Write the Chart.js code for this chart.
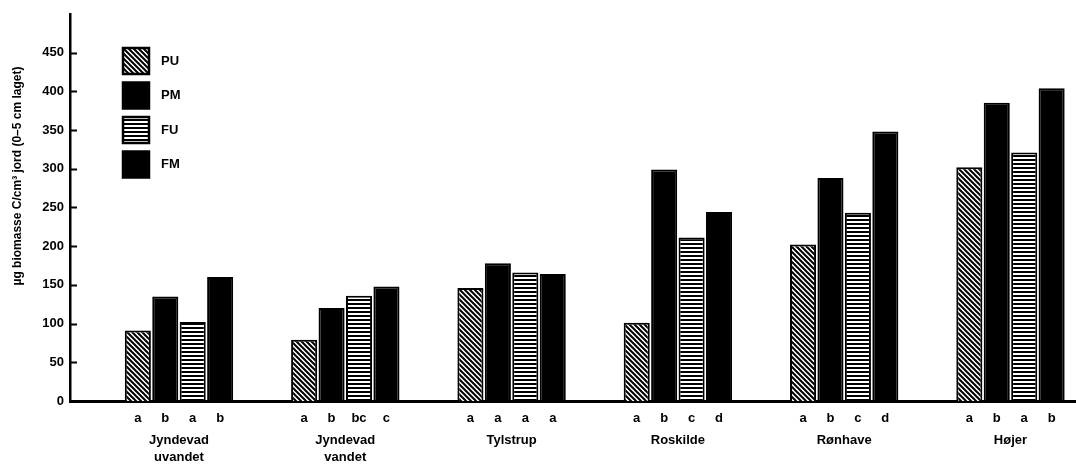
<!DOCTYPE html>
<html><head><meta charset="utf-8">
<script src="https://cdn.jsdelivr.net/npm/chart.js@4/dist/chart.umd.min.js"></script>
<style>html,body{margin:0;padding:0;background:#fff;} #wrap{width:1076px;height:467px;position:relative;}</style>
</head><body><div id="wrap"><canvas id="c" width="1076" height="467"></canvas></div>
<script>
// ---- data ----
const sites = [['Jyndevad','uvandet'], ['Jyndevad','vandet'], 'Tylstrup', 'Roskilde', 'Rønhave', 'Højer'];
const seriesNames = ['PU', 'PM', 'FU', 'FM'];
const puValues = [91, 79, 146, 101, 202, 302];
const pmValues = [135, 120, 178, 299, 288, 385];
const fuValues = [102, 136, 166, 211, 243, 321];
const fmValues = [160, 148, 164, 244, 348, 404];
const puLetters = ['a', 'a', 'a', 'a', 'a', 'a'];
const pmLetters = ['b', 'b', 'a', 'b', 'b', 'b'];
const fuLetters = ['a', 'bc', 'a', 'c', 'c', 'a'];
const fmLetters = ['b', 'c', 'a', 'd', 'd', 'b'];
const yTickValues = [0, 50, 100, 150, 200, 250, 300, 350, 400, 450];
const yTitle = 'µg biomasse C/cm³ jord (0–5 cm laget)';

// ---- styles ----
const FONT = '"Liberation Sans", Arial, Helvetica, sans-serif';
function hatchPattern(lw) {
  const c = document.createElement('canvas'); c.width = 5; c.height = 5;
  const g = c.getContext('2d');
  g.fillStyle = '#fff'; g.fillRect(0, 0, 5, 5);
  g.strokeStyle = '#000'; g.lineWidth = lw;
  g.beginPath();
  g.moveTo(-1, -1); g.lineTo(6, 6);
  g.moveTo(-1, 4); g.lineTo(1, 6);
  g.moveTo(4, -1); g.lineTo(6, 1);
  g.stroke();
  return g.createPattern(c, 'repeat');
}
function stripePattern() {
  const c = document.createElement('canvas'); c.width = 4; c.height = 4;
  const g = c.getContext('2d');
  g.fillStyle = '#000'; g.fillRect(0, 0, 4, 4);
  g.fillStyle = '#fff'; g.fillRect(0, 1, 4, 2);
  return g.createPattern(c, 'repeat');
}
const fills = [hatchPattern(2), '#000', stripePattern(), '#000'];
const seriesValues = [puValues, pmValues, fuValues, fmValues];
const seriesLetters = [puLetters, pmLetters, fuLetters, fmLetters];

const datasets = seriesNames.map((name, s) => ({
  label: name,
  data: seriesValues[s].map((v, i) => ({ x: i, y: v })),
  backgroundColor: fills[s],
  borderColor: '#000',
  borderWidth: 2,
  categoryPercentage: 0.66,
  barPercentage: 0.95
}));

const extras = {
  id: 'extras',
  afterDraw(chart) {
    const ctx = chart.ctx, ca = chart.chartArea, ys = chart.scales.y;
    ctx.save();
    // inward y tick marks
    ctx.strokeStyle = '#000'; ctx.lineWidth = 2;
    yTickValues.forEach(v => {
      const p = Math.round(ys.getPixelForValue(v)) + 0.5;
      ctx.beginPath(); ctx.moveTo(ca.left, p); ctx.lineTo(ca.left + 7, p); ctx.stroke();
    });
    // bar letters
    ctx.fillStyle = '#000';
    ctx.font = 'bold 13px ' + FONT;
    ctx.textAlign = 'center'; ctx.textBaseline = 'middle';
    chart.data.datasets.forEach((ds, d) => {
      chart.getDatasetMeta(d).data.forEach((bar, i) => {
        ctx.fillText(seriesLetters[d][i], bar.x, ca.bottom + 17);
      });
    });
    // legend
    const lx = ca.left + 53, ly0 = 48, step = 34.5, bs = 26;
    ctx.textAlign = 'left';
    chart.data.datasets.forEach((ds, d) => {
      const y = ly0 + d * step;
      ctx.fillStyle = ds.backgroundColor;
      ctx.fillRect(lx, y, bs, bs);
      ctx.strokeStyle = '#000'; ctx.lineWidth = 2.5;
      ctx.strokeRect(lx, y, bs, bs);
      ctx.fillStyle = '#000';
      ctx.fillText(ds.label, lx + 38, y + bs / 2);
    });
    // y title
    ctx.translate(18, 176);
    ctx.rotate(-Math.PI / 2);
    ctx.font = 'bold 12px ' + FONT;
    ctx.textAlign = 'center';
    ctx.fillText(yTitle, 0, 0);
    ctx.restore();
  }
};

new Chart(document.getElementById('c'), {
  type: 'bar',
  data: { datasets },
  plugins: [extras],
  options: {
    responsive: false,
    animation: false,
    layout: { padding: { top: 11, right: 0, left: 0, bottom: 0 } },
    plugins: { legend: { display: false }, tooltip: { enabled: false } },
    scales: {
      x: {
        type: 'linear',
        offset: false,
        min: -0.6554, max: 5.394,
        afterBuildTicks(scale) { scale.ticks = sites.map((_, i) => ({ value: i })); },
        afterFit(scale) { scale.height = 66; },
        grid: { display: false, drawTicks: false, offset: false },
        border: { display: true, color: '#000', width: 3 },
        ticks: {
          autoSkip: false, maxRotation: 0, padding: 31,
          color: '#000',
          font: { family: FONT, size: 13, weight: 'bold', lineHeight: 1.3 },
          callback: (v) => sites[Math.round(v)]
        }
      },
      y: {
        min: 0, max: 500,
        afterFit(scale) { scale.width = 70; },
        grid: { display: false, drawTicks: false },
        border: { display: true, color: '#000', width: 2.5 },
        ticks: {
          stepSize: 50, padding: 6, color: '#000',
          font: { family: FONT, size: 13, weight: 'bold' },
          callback: (v) => (yTickValues.includes(v) ? String(v) : null)
        }
      }
    }
  }
});
</script>
</body></html>
